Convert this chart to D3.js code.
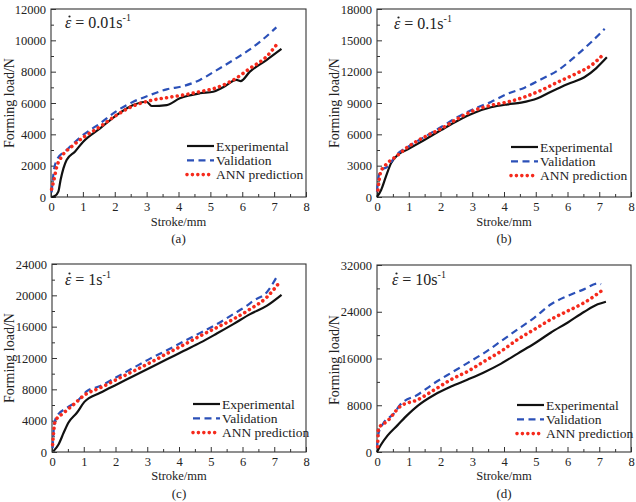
<!DOCTYPE html>
<html><head><meta charset="utf-8">
<script src="https://cdn.jsdelivr.net/npm/d3@7"></script>
<style>body{margin:0;background:#fff} svg{display:block} text{font-family:"Liberation Serif","Times New Roman","DejaVu Serif",serif !important;}</style>
</head><body><svg id="c" width="636" height="502"></svg>
<script>
// ---------- data ----------
const seriesNames = ["Experimental", "Validation", "ANN prediction"];
const panelLabels = ["(a)", "(b)", "(c)", "(d)"];
const rateLabels = ["0.01s", "0.1s", "1s", "10s"];
const xTickValues = [0, 1, 2, 3, 4, 5, 6, 7, 8];
const yTicksA = [0, 2000, 4000, 6000, 8000, 10000, 12000];
const yTicksB = [0, 3000, 6000, 9000, 12000, 15000, 18000];
const yTicksC = [0, 4000, 8000, 12000, 16000, 20000, 24000];
const yTicksD = [0, 8000, 16000, 24000, 32000];

// panel (a)  [stroke mm, load N]
const expA = [[0.02,0],[0.12,60],[0.23,340],[0.30,1085],[0.39,1830],[0.49,2360],[0.75,2890],[1.01,3530],[1.54,4380],[2.06,5230],[2.58,5870],[3.0,6080],[3.16,5810],[3.63,5870],[4.04,6300],[4.67,6620],[5.09,6720],[5.40,7000],[5.82,7470],[5.95,7400],[6.24,8000],[6.76,8740],[7.23,9450]];
const valA = [[0.02,300],[0.08,1530],[0.18,2360],[0.49,3000],[1.01,3960],[1.54,4700],[2.06,5490],[2.58,6080],[3.11,6510],[3.63,6870],[4.15,7080],[4.67,7470],[5.2,8100],[5.72,8740],[6.24,9420],[6.6,9980],[7.07,10830]];
const annA = [[0.02,500],[0.09,1080],[0.18,1930],[0.33,2560],[0.64,3200],[1.01,3800],[1.54,4490],[2.06,5230],[2.58,5810],[3.11,6150],[3.63,6340],[4.15,6510],[4.67,6720],[5.2,6980],[5.72,7470],[6.24,8210],[6.76,8960],[7.07,9700]];

// panel (b)
const expB = [[0.0,0],[0.13,670],[0.28,1950],[0.44,3220],[0.65,4020],[0.97,4560],[1.49,5460],[2.02,6410],[2.54,7310],[3.07,8070],[3.59,8590],[4.12,8870],[4.54,9030],[5.06,9450],[5.48,10080],[6.01,10820],[6.53,11460],[6.9,12320],[7.24,13370]];
const valB = [[0.0,500],[0.05,1950],[0.15,2580],[0.31,2870],[0.65,4150],[0.97,4790],[1.49,5740],[2.02,6700],[2.54,7660],[3.07,8460],[3.59,9100],[4.12,9890],[4.65,10470],[5.17,11270],[5.7,12130],[6.22,13400],[6.75,14840],[7.17,16110]];
const annB = [[0.03,670],[0.11,2330],[0.27,3060],[0.59,3860],[0.97,4790],[1.49,5740],[2.02,6540],[2.54,7500],[3.07,8300],[3.59,8780],[4.12,9100],[4.65,9580],[5.17,10220],[5.7,11010],[6.22,11740],[6.75,12610],[7.12,13630]];

// panel (c)
const expC = [[0.04,80],[0.21,1000],[0.37,2480],[0.52,3760],[0.79,5040],[1.02,6400],[1.52,7560],[2.04,8630],[2.57,9700],[3.09,10760],[3.62,11830],[4.14,12900],[4.67,13960],[5.19,15120],[5.71,16320],[6.24,17600],[6.76,18660],[7.23,20070]];
const valC = [[0.02,500],[0.07,3500],[0.15,4560],[0.47,5630],[0.79,6490],[1.1,7770],[1.52,8420],[2.04,9570],[2.57,10760],[3.09,11920],[3.62,12990],[4.14,14100],[4.67,15210],[5.19,16320],[5.71,17600],[6.13,18660],[6.34,19300],[6.76,20370],[7.07,22290]];
const annC = [[0.02,940],[0.1,3930],[0.37,5000],[0.68,6060],[1.05,7340],[1.52,8200],[2.04,9270],[2.57,10330],[3.09,11400],[3.62,12560],[4.14,13670],[4.67,14820],[5.19,15890],[5.71,16960],[6.24,18240],[6.76,19740],[7.18,21740]];

// panel (d)
const expD = [[0.0,0],[0.12,1200],[0.33,2800],[0.65,4600],[0.97,6400],[1.28,7900],[1.81,9800],[2.33,11200],[2.86,12400],[3.38,13650],[3.91,15120],[4.43,16840],[4.96,18560],[5.48,20450],[6.01,22170],[6.53,24000],[6.95,25270],[7.21,25720]];
const valD = [[0.0,630],[0.05,3210],[0.2,4930],[0.52,6500],[0.73,8080],[1.28,9800],[1.81,11800],[2.33,13530],[2.86,15250],[3.38,16970],[3.91,18980],[4.43,20990],[4.96,23000],[5.48,25290],[6.01,26720],[6.53,27870],[6.95,28840],[7.06,28730]];
const annD = [[0.02,900],[0.05,4060],[0.33,5300],[0.73,7790],[1.28,8940],[1.81,10660],[2.33,12380],[2.86,13810],[3.38,15530],[3.91,17250],[4.43,19260],[4.96,20990],[5.48,22700],[6.01,24140],[6.53,25570],[7.1,27690]];

// ---------- layout ----------
const panels = [
  {exp: expA, val: valA, ann: annA, yTicks: yTicksA, x0: 51, x1: 306, y0: 9, y1: 197, legX: 187, legY: 146, rateX: 65, rateY: 28, yTitleX: 14, yTitleY: 103, xTitleY: 226, subY: 243},
  {exp: expB, val: valB, ann: annB, yTicks: yTicksB, x0: 377, x1: 631, y0: 9, y1: 197, legX: 511, legY: 147, rateX: 394, rateY: 29, yTitleX: 339, yTitleY: 103, xTitleY: 226, subY: 243},
  {exp: expC, val: valC, ann: annC, yTicks: yTicksC, x0: 52, x1: 306, y0: 264, y1: 452, legX: 193, legY: 404, rateX: 65, rateY: 285, yTitleX: 14, yTitleY: 358, xTitleY: 480, subY: 498},
  {exp: expD, val: valD, ann: annD, yTicks: yTicksD, x0: 377, x1: 631, y0: 265, y1: 452, legX: 517, legY: 405, rateX: 392, rateY: 285, yTitleX: 339, yTitleY: 360, xTitleY: 480, subY: 498}
];

const styles = [
  {stroke: "#111", width: 2.2, dash: null, cap: "butt"},
  {stroke: "#2b50b8", width: 2.2, dash: "7,4.5", cap: "butt"},
  {stroke: "#f52a1c", width: 3.6, dash: "0.01,5.4", cap: "round"}
];

const svg = d3.select("#c");

panels.forEach((p, i) => {
  const g = svg.append("g");
  const x = d3.scaleLinear().domain([0, 8]).range([p.x0, p.x1]);
  const ymax = p.yTicks[p.yTicks.length - 1];
  const y = d3.scaleLinear().domain([0, ymax]).range([p.y1, p.y0]);
  const ystep = p.yTicks[1];

  const xMinor = d3.range(0.5, 8, 1);
  const yMinor = d3.range(ystep / 2, ymax, ystep);

  const xAxis = d3.axisBottom(x).tickValues(xTickValues).tickSizeInner(-5).tickSizeOuter(0).tickPadding(5);
  const yAxis = d3.axisLeft(y).tickValues(p.yTicks).tickSizeInner(-5).tickSizeOuter(0).tickPadding(5).tickFormat(d3.format("d"));

  g.append("g").attr("transform", `translate(0,${p.y1})`).call(xAxis);
  g.append("g").attr("transform", `translate(${p.x0},0)`).call(yAxis);
  g.append("g").attr("transform", `translate(0,${p.y1})`)
    .call(d3.axisBottom(x).tickValues(xMinor).tickSizeInner(-3).tickSizeOuter(0).tickFormat(""));
  g.append("g").attr("transform", `translate(${p.x0},0)`)
    .call(d3.axisLeft(y).tickValues(yMinor).tickSizeInner(-3).tickSizeOuter(0).tickFormat(""));

  g.selectAll(".domain").remove();
  g.selectAll(".tick line").attr("stroke", "#333").attr("stroke-width", 1);
  g.selectAll(".tick text").attr("font-size", 12.5).attr("fill", "#222");

  // frame
  g.append("rect").attr("x", p.x0).attr("y", p.y0).attr("width", p.x1 - p.x0).attr("height", p.y1 - p.y0)
    .attr("fill", "none").attr("stroke", "#333").attr("stroke-width", 1.1);

  // lines
  const line = d3.line().x(d => x(d[0])).y(d => y(d[1])).curve(d3.curveMonotoneX);
  [p.exp, p.val, p.ann].forEach((data, k) => {
    const s = styles[k];
    const path = g.append("path").datum(data).attr("d", line).attr("fill", "none")
      .attr("stroke", s.stroke).attr("stroke-width", s.width).attr("stroke-linecap", s.cap)
      .attr("stroke-linejoin", "round");
    if (s.dash) path.attr("stroke-dasharray", s.dash);
  });

  // legend
  seriesNames.forEach((name, k) => {
    const s = styles[k];
    const ly = p.legY + k * 14.3;
    const l = g.append("line").attr("x1", p.legX).attr("x2", p.legX + 27).attr("y1", ly).attr("y2", ly)
      .attr("stroke", s.stroke).attr("stroke-width", s.width).attr("stroke-linecap", s.cap);
    if (s.dash) l.attr("stroke-dasharray", s.dash);
    g.append("text").attr("x", p.legX + 29).attr("y", ly + 4.5)
      .attr("font-size", 13.5).attr("fill", "#222").text(name);
  });

  // rate annotation (epsilon with dot above)
  const t = g.append("text").attr("x", p.rateX).attr("y", p.rateY)
    .attr("font-size", 16).attr("fill", "#222");
  t.append("tspan").attr("font-style", "italic").text("\u03B5");
  t.append("tspan").text(" = " + rateLabels[i]);
  t.append("tspan").attr("font-size", 10).attr("dy", -7).text("-1");
  g.append("circle").attr("cx", p.rateX + 4.5).attr("cy", p.rateY - 11.5).attr("r", 1.1).attr("fill", "#222");

  // axis titles
  g.append("text").attr("x", (p.x0 + p.x1) / 2).attr("y", p.xTitleY).attr("text-anchor", "middle")
    .attr("font-size", 12.5).attr("fill", "#222").text("Stroke/mm");
  g.append("text").attr("transform", `translate(${p.yTitleX},${p.yTitleY}) rotate(-90)`)
    .attr("text-anchor", "middle").attr("font-size", 14).attr("fill", "#222")
    .text("Forming load/N");
  g.append("text").attr("x", (p.x0 + p.x1) / 2).attr("y", p.subY).attr("text-anchor", "middle")
    .attr("font-size", 13).attr("fill", "#222").text(panelLabels[i]);
});
</script></body></html>
